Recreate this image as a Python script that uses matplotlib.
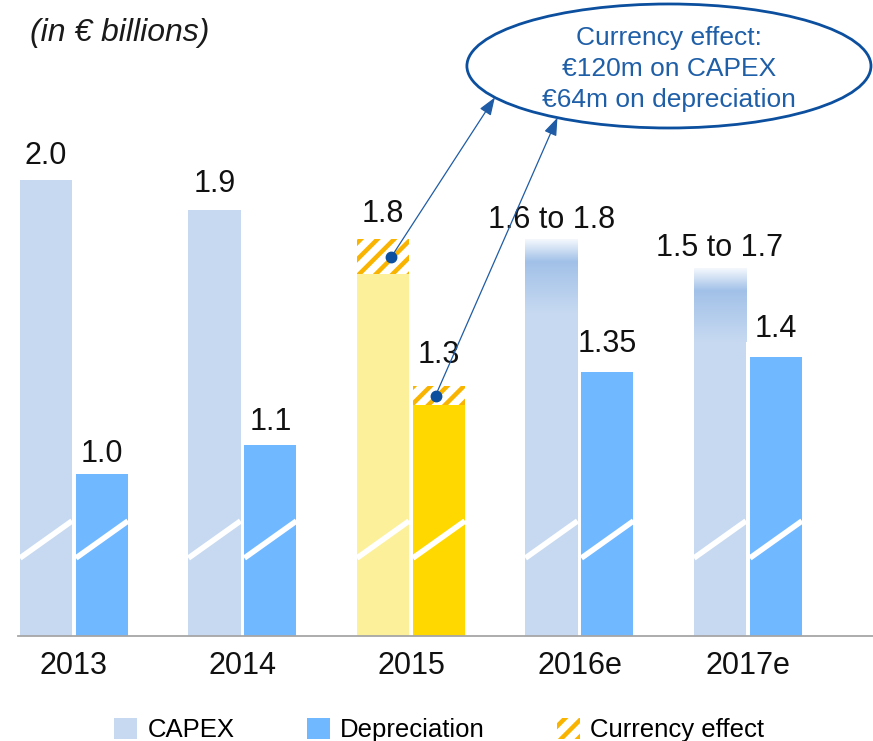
import matplotlib
matplotlib.use('Agg')
import matplotlib.pyplot as plt
import numpy as np
from matplotlib.patches import Ellipse, Patch
from matplotlib.colors import to_rgb

plt.rcParams['font.family'] = ['Liberation Sans', 'DejaVu Sans']
plt.rcParams['hatch.linewidth'] = 3.2

# ---------------- data ----------------
years = ['2013', '2014', '2015', '2016e', '2017e']
capex_high = [2.0, 1.9, 1.8, 1.8, 1.7]
capex_low = [2.0, 1.9, 1.8, 1.6, 1.5]
depreciation = [1.0, 1.1, 1.3, 1.35, 1.4]
currency_capex = [0.0, 0.0, 0.12, 0.0, 0.0]
currency_dep = [0.0, 0.0, 0.064, 0.0, 0.0]
capex_labels = ['2.0', '1.9', '1.8', '1.6 to 1.8', '1.5 to 1.7']
dep_labels = ['1.0', '1.1', '1.3', '1.35', '1.4']
legend_labels = ['CAPEX', 'Depreciation', 'Currency effect']
note_lines = ['Currency effect:', '€120m on CAPEX', '€64m on depreciation']
subtitle = '(in € billions)'

# ---------------- style ----------------
capex_color = '#c6d9f1'
dep_color = '#70b8ff'
capex_hl = '#fdf09a'
dep_hl = '#ffd800'
hatch_color = '#f8b400'
navy = '#0b4f9e'
note_color = '#1f5fa8'
highlight_year = '2015'

W_PX, H_PX = 873, 741
fig = plt.figure(figsize=(W_PX / 100, H_PX / 100), dpi=100)
ax = fig.add_axes([18 / W_PX, 1 - 636 / H_PX, 855 / W_PX, 636 / H_PX])

# broken value axis: baseline stands for ~0.45
y_break = 0.451
px_per_unit = 294.2
ylim = (y_break, y_break + 636 / px_per_unit)
xlim = (-0.332, 4.742)

x = np.arange(len(years))
w = 0.309
off = 0.166

hl = [y == highlight_year for y in years]
cap_cols = [capex_hl if h else capex_color for h in hl]
dep_cols = [dep_hl if h else dep_color for h in hl]

# CAPEX bars
for i in range(len(years)):
    xc = x[i] - off
    if capex_low[i] == capex_high[i]:
        ax.bar(xc, capex_high[i] - currency_capex[i], w, color=cap_cols[i], lw=0, zorder=2)
    else:
        g0 = capex_low[i] - 0.05
        ax.bar(xc, g0, w, color=cap_cols[i], lw=0, zorder=2)
        t = np.linspace(0, 1, 80)
        base = np.array(to_rgb(capex_color))
        dark = np.array(to_rgb('#a2c1e8'))
        top = np.array(to_rgb('#f4f8fd'))
        peak = 0.7
        cols = []
        for tt in t:
            if tt < peak:
                f = tt / peak
                cols.append(base * (1 - f) + dark * f)
            else:
                f = (tt - peak) / (1 - peak)
                cols.append(dark * (1 - f) + top * f)
        img = np.array(cols)[:, None, :]
        ax.imshow(img, extent=[xc - w / 2, xc + w / 2, g0, capex_high[i]],
                  origin='lower', aspect='auto', zorder=2, interpolation='bilinear')
    if currency_capex[i] > 0:
        ax.bar(xc, currency_capex[i], w, bottom=capex_high[i] - currency_capex[i],
               color='white', edgecolor=hatch_color, hatch='//', lw=0, zorder=2)

# Depreciation bars
for i in range(len(years)):
    xc = x[i] + off
    ax.bar(xc, depreciation[i] - currency_dep[i], w, color=dep_cols[i], lw=0, zorder=2)
    if currency_dep[i] > 0:
        ax.bar(xc, currency_dep[i], w, bottom=depreciation[i] - currency_dep[i],
               color='white', edgecolor=hatch_color, hatch='//', lw=0, zorder=2)

ax.set_xlim(*xlim)
ax.set_ylim(*ylim)

# axis break marks
brk_lo, brk_hi = 0.716, 0.842
for i in range(len(years)):
    for xc in (x[i] - off, x[i] + off):
        ax.plot([xc - w / 2, xc + w / 2], [brk_lo, brk_hi], color='white', lw=4,
                solid_capstyle='butt', zorder=3)

# value labels
cap_off = [12, 13, 12, 8, 9]
dep_off = [9, 11, 17, 14, 14]
for i in range(len(years)):
    ax.annotate(capex_labels[i], (x[i] - off, capex_high[i]), xytext=(0, cap_off[i]),
                textcoords='offset points', ha='center', va='baseline',
                fontsize=22, color='#111111', annotation_clip=False)
    ax.annotate(dep_labels[i], (x[i] + off, depreciation[i]), xytext=(0, dep_off[i]),
                textcoords='offset points', ha='center', va='baseline',
                fontsize=22, color='#111111', annotation_clip=False)

# callout ellipse
ecx, ecy = 3.531, 2.3885
ew, eh = 2.398, 0.4215
ax.add_patch(Ellipse((ecx, ecy), ew, eh, facecolor='white', edgecolor=navy,
                     lw=2, zorder=4, clip_on=False))
ax.text(ecx, ecy - 0.01, '\n'.join(note_lines), ha='center', va='center', fontsize=19,
        color=note_color, linespacing=1.38, zorder=5)

# dots and arrows
i15 = years.index(highlight_year)
dots = [(x[i15] - off + 0.05, capex_high[i15] - currency_capex[i15] / 2),
        (x[i15] + off - 0.02, depreciation[i15] - currency_dep[i15] / 2)]
angles = [210.5, 236.5]
for (dx, dy), ang in zip(dots, angles):
    a = np.deg2rad(ang)
    tip = (ecx + ew / 2 * np.cos(a), ecy + eh / 2 * np.sin(a))
    ax.annotate('', xy=tip, xytext=(dx, dy),
                arrowprops=dict(arrowstyle='-|>,head_length=0.6,head_width=0.22',
                                mutation_scale=18, color='#1f5ca5', lw=0.9,
                                shrinkA=0, shrinkB=0), zorder=5, annotation_clip=False)
    ax.plot(dx, dy, 'o', ms=7.5, color=navy, zorder=6)

# axes styling
ax.set_xticks(x, years)
ax.tick_params(axis='x', length=0, pad=11, labelsize=22, labelcolor='#111111')
ax.set_yticks([])
for s in ('top', 'left', 'right'):
    ax.spines[s].set_visible(False)
ax.spines['bottom'].set_color('#a6a6a6')
ax.spines['bottom'].set_linewidth(1.3)
ax.set_facecolor('none')

fig.text(30 / W_PX, 1 - 33 / H_PX, subtitle, ha='left', va='center', fontsize=23,
         style='italic', color='#1a1a1a')

handles = [Patch(facecolor=capex_color, lw=0),
           Patch(facecolor=dep_color, lw=0),
           Patch(facecolor='white', edgecolor=hatch_color, hatch='//', lw=0)]
fig.legend(handles, legend_labels, loc='center', bbox_to_anchor=(0.503, 0.015),
           ncol=3, frameon=False, fontsize=18.5, handlelength=0.9, handleheight=0.9,
           handletextpad=0.4, columnspacing=2.8, borderpad=0, borderaxespad=0)

fig.savefig('out.png', dpi=100)
